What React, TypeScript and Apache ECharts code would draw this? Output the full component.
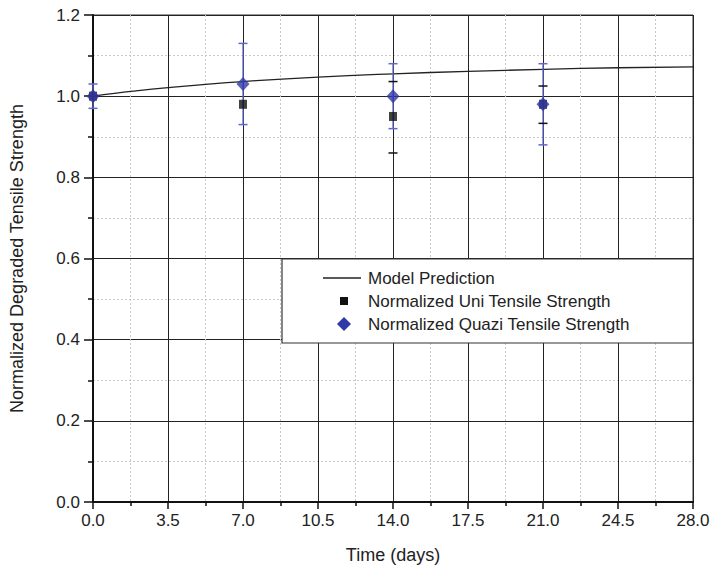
import React, { useEffect, useRef } from "react";
import * as echarts from "echarts";

const modelDays = [0, 1, 2, 3.5, 5, 7, 10.5, 14, 17.5, 21, 24.5, 28];
const modelValues = [1.0, 1.007, 1.013, 1.021, 1.028, 1.036, 1.047, 1.055, 1.061, 1.066, 1.07, 1.072];

const testDays = [0, 7, 14, 21];
const uniValues = [1.0, 0.98, 0.95, 0.98];
const uniErrLow: (number | null)[] = [null, null, 0.86, 0.933];
const uniErrHigh: (number | null)[] = [null, null, 1.036, 1.025];
const quaziValues = [1.0, 1.03, 1.0, 0.98];
const quaziErrLow = [0.97, 0.93, 0.92, 0.88];
const quaziErrHigh = [1.03, 1.13, 1.08, 1.08];

const legendLabels = ["Model Prediction", "Normalized Uni Tensile Strength", "Normalized Quazi Tensile Strength"];

const FONT = "'Liberation Sans', Arial, Helvetica, sans-serif";
const BLUE = "#3138a8";
const BLUE_BAR = "#6068cc";

function errorSeries(name: string, lows: (number | null)[], highs: (number | null)[], color: string, showLine: boolean, z: number) {
  const data: number[][] = [];
  testDays.forEach((d, i) => {
    const lo = lows[i];
    const hi = highs[i];
    if (lo != null && hi != null) data.push([d, lo, hi]);
  });
  return {
    type: "custom",
    name,
    z,
    silent: true,
    data,
    renderItem: (params: any, api: any) => {
      const x = api.value(0);
      const lo = api.coord([x, api.value(1)]);
      const hi = api.coord([x, api.value(2)]);
      const hw = 4.5;
      const children: any[] = [];
      if (showLine) {
        children.push({ type: "line", shape: { x1: lo[0], y1: lo[1], x2: hi[0], y2: hi[1] }, style: { stroke: color, lineWidth: 1.3 } });
      }
      children.push({ type: "line", shape: { x1: lo[0] - hw, y1: lo[1], x2: lo[0] + hw, y2: lo[1] }, style: { stroke: color, lineWidth: 1.5 } });
      children.push({ type: "line", shape: { x1: hi[0] - hw, y1: hi[1], x2: hi[0] + hw, y2: hi[1] }, style: { stroke: color, lineWidth: 1.5 } });
      return { type: "group", children };
    },
  };
}

export default function App() {
  const ref = useRef<HTMLDivElement>(null);
  useEffect(() => {
    if (!ref.current) return;
    const chart = echarts.init(ref.current, null, { renderer: "svg" });
    const legendTop = 259;
    const legendLeft = 282;
    const Z = 100;
    const option: any = {
      animation: false,
      backgroundColor: "#fff",
      textStyle: { fontFamily: FONT },
      grid: { left: 93, right: 18, top: 15, bottom: 72, show: true, borderColor: "#333", borderWidth: 1, containLabel: false, outerBoundsMode: "none" },
      xAxis: {
        type: "value",
        min: 0,
        max: 28,
        interval: 3.5,
        name: "Time (days)",
        nameLocation: "middle",
        nameGap: 44,
        nameTextStyle: { fontSize: 18, color: "#222", fontFamily: FONT },
        axisLine: { show: true, lineStyle: { color: "#111", width: 2 } },
        axisTick: { show: true, length: 7, lineStyle: { color: "#111", width: 1.5 } },
        minorTick: { show: true, splitNumber: 2, length: 4, lineStyle: { color: "#111", width: 1.5 } },
        axisLabel: { fontSize: 17, color: "#222", margin: 10, formatter: (v: number) => v.toFixed(1), fontFamily: FONT },
        splitLine: { show: true, lineStyle: { color: "#222", width: 1 } },
        minorSplitLine: { show: true, lineStyle: { color: "#c8c8c8", width: 1, type: [2, 2] } },
      },
      yAxis: {
        type: "value",
        min: 0,
        max: 1.2,
        interval: 0.2,
        name: "Normalized Degraded Tensile Strength",
        nameLocation: "middle",
        nameGap: 67,
        nameTextStyle: { fontSize: 18, color: "#222", fontFamily: FONT },
        axisLine: { show: true, lineStyle: { color: "#111", width: 2 } },
        axisTick: { show: true, length: 9, lineStyle: { color: "#111", width: 1.5 } },
        minorTick: { show: true, splitNumber: 2, length: 5, lineStyle: { color: "#111", width: 1.5 } },
        axisLabel: { fontSize: 17, color: "#222", margin: 13, formatter: (v: number) => v.toFixed(1), fontFamily: FONT },
        splitLine: { show: true, lineStyle: { color: "#222", width: 1 } },
        minorSplitLine: { show: true, lineStyle: { color: "#c8c8c8", width: 1, type: [2, 2] } },
      },
      series: [
        {
          type: "line",
          name: legendLabels[0],
          data: modelDays.map((d, i) => [d, modelValues[i]]),
          smooth: true,
          showSymbol: false,
          lineStyle: { color: "#222", width: 1.3 },
          z: 3,
        },
        errorSeries("quaziErr", quaziErrLow, quaziErrHigh, BLUE_BAR, true, 4),
        errorSeries("uniErr", uniErrLow, uniErrHigh, "#111", false, 5),
        {
          type: "scatter",
          name: legendLabels[1],
          data: testDays.map((d, i) => [d, uniValues[i]]),
          symbol: "rect",
          symbolSize: [8, 9],
          itemStyle: { color: "#111" },
          z: 6,
        },
        {
          type: "scatter",
          name: legendLabels[2],
          data: testDays.map((d, i) => [d, quaziValues[i]]),
          symbol: "diamond",
          symbolSize: [13, 14],
          itemStyle: { color: BLUE },
          z: 7,
        },
      ],
      graphic: [
        { type: "rect", z: Z, shape: { x: legendLeft, y: legendTop, width: 411, height: 84 }, style: { fill: "#fff", stroke: "#333", lineWidth: 1.2 } },
        { type: "line", z: Z + 1, shape: { x1: 323, y1: 278, x2: 361, y2: 278 }, style: { stroke: "#222", lineWidth: 1.3 } },
        { type: "rect", z: Z + 1, shape: { x: 340, y: 297, width: 8, height: 8 }, style: { fill: "#111" } },
        { type: "polygon", z: Z + 1, shape: { points: [[344, 317], [351, 324], [344, 331], [337, 324]] }, style: { fill: BLUE } },
        { type: "text", z: Z + 1, x: 368, y: 278, style: { text: legendLabels[0], font: `17px ${FONT}`, fill: "#222", verticalAlign: "middle" } },
        { type: "text", z: Z + 1, x: 368, y: 301, style: { text: legendLabels[1], font: `17px ${FONT}`, fill: "#222", verticalAlign: "middle" } },
        { type: "text", z: Z + 1, x: 368, y: 324, style: { text: legendLabels[2], font: `17px ${FONT}`, fill: "#222", verticalAlign: "middle" } },
      ],
    };
    chart.setOption(option);
    return () => chart.dispose();
  }, []);
  return <div ref={ref} style={{ position: "absolute", left: 0, top: 0, width: 711, height: 574 }} />;
}
